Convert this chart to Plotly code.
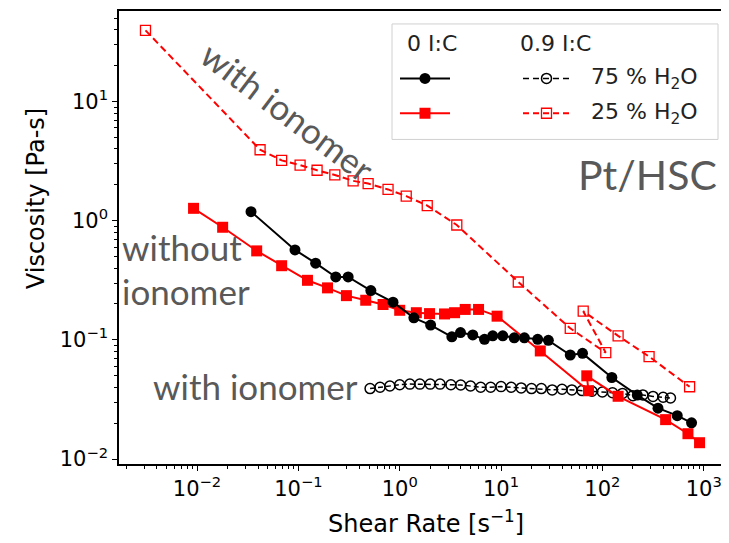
import plotly.graph_objects as go

# ---- data ----
# 0 I:C, 75 % H2O  (black filled circles, solid)
x_0ic_75 = [0.0341, 0.0926, 0.148, 0.234, 0.31, 0.519, 0.859, 1.38, 2.02, 3.27, 3.98, 5.26,
            6.87, 8.28, 10.4, 13.5, 17.0, 23.0, 29.3, 48.2, 63.7, 124, 221, 354, 548, 759]
y_0ic_75 = [1.19, 0.569, 0.44, 0.337, 0.337, 0.259, 0.207, 0.153, 0.133, 0.106, 0.115, 0.11,
            0.101, 0.108, 0.108, 0.104, 0.104, 0.101, 0.099, 0.0746, 0.077, 0.0483, 0.0344,
            0.0267, 0.0231, 0.0201]

# 0 I:C, 25 % H2O  (red filled squares, solid)
x_0ic_25 = [0.00924, 0.0179, 0.0388, 0.0684, 0.123, 0.194, 0.298, 0.462, 0.685, 1.0, 1.46,
            1.97, 2.77, 3.48, 4.43, 6.0, 9.14, 24.4, 73, 70.2, 143, 421, 699, 910]
y_0ic_25 = [1.27, 0.881, 0.558, 0.419, 0.316, 0.273, 0.235, 0.215, 0.198, 0.177, 0.169,
            0.166, 0.165, 0.169, 0.18, 0.18, 0.158, 0.0807, 0.0374, 0.0499, 0.0336, 0.0214,
            0.0163, 0.0137]

# 0.9 I:C, 75 % H2O  (black open circles, dashed)
x_09ic_75 = [0.51, 0.64, 0.80, 1.0, 1.26, 1.58, 2.0, 2.5, 3.2, 4.0, 5.0, 6.3, 7.9, 10.0,
             12.6, 15.8, 20, 25, 32, 40, 50, 63, 79, 100, 126, 158, 200, 251, 316, 398, 470]
y_09ic_75 = [0.039, 0.040, 0.041, 0.042, 0.0425, 0.0425, 0.0425, 0.0425, 0.042, 0.0418,
             0.041, 0.040, 0.040, 0.0405, 0.040, 0.0395, 0.039, 0.039, 0.038, 0.0385, 0.038,
             0.0375, 0.037, 0.0365, 0.036, 0.0355, 0.034, 0.0345, 0.0335, 0.033, 0.0325]

# 0.9 I:C, 25 % H2O  (red open squares, dashed)
x_09ic_25 = [0.0031, 0.0419, 0.0684, 0.104, 0.153, 0.229, 0.347, 0.488, 0.767, 1.16, 1.87,
             3.66, 14.8, 48.2, 108, 64.7, 143, 289, 726]
y_09ic_25 = [39.6, 3.94, 3.21, 2.93, 2.65, 2.42, 2.16, 2.05, 1.83, 1.61, 1.34, 0.92, 0.306,
             0.125, 0.078, 0.174, 0.108, 0.0724, 0.0404]

x_tickvals = [0.01, 0.1, 1, 10, 100, 1000]
x_ticktext = ["10<sup>−2</sup>", "10<sup>−1</sup>", "10<sup>0</sup>", "10<sup>1</sup>",
              "10<sup>2</sup>", "10<sup>3</sup>"]
y_tickvals = [0.01, 0.1, 1, 10]
y_ticktext = ["10<sup>−2</sup>", "10<sup>−1</sup>", "10<sup>0</sup>", "10<sup>1</sup>"]

legend_headers = ["0 I:C", "0.9 I:C"]
legend_rows = ["75 % H<sub>2</sub>O", "25 % H<sub>2</sub>O"]

# page body has an 8px default margin: the figure is made 8px smaller and
# positions below are given in screenshot pixels
OFF = 8
SW, SH = 729, 543                      # screenshot size
PL, PR, PT, PB = 119, 726, 9, 464      # plot area in screenshot pixels
W, H = SW - OFF, SH - OFF
PW, PH = PR - PL, PB - PT
RED = "#ff0000"
GRAY = "#595959"
TICKFONT = dict(family="DejaVu Sans", size=21, color="black")


def px(x, y):
    """screenshot pixel position -> paper coordinates"""
    return (x - PL) / PW, (PB - y) / PH


fig = go.Figure()

fig.add_trace(go.Scatter(x=x_09ic_25, y=y_09ic_25, mode="lines+markers",
                         line=dict(color=RED, width=2, dash="7px,4px"),
                         marker=dict(symbol="square-open", size=10, color=RED,
                                     line=dict(width=1.3, color=RED)),
                         showlegend=False))
fig.add_trace(go.Scatter(x=x_09ic_75, y=y_09ic_75, mode="lines+markers",
                         line=dict(color="black", width=1.5, dash="5px,3px"),
                         marker=dict(symbol="circle-open", size=10, color="black",
                                     line=dict(width=1.5, color="black")),
                         showlegend=False))
fig.add_trace(go.Scatter(x=x_0ic_25, y=y_0ic_25, mode="lines+markers",
                         line=dict(color=RED, width=2),
                         marker=dict(symbol="square", size=11, color=RED),
                         showlegend=False))
fig.add_trace(go.Scatter(x=x_0ic_75, y=y_0ic_75, mode="lines+markers",
                         line=dict(color="black", width=2),
                         marker=dict(symbol="circle", size=11, color="black"),
                         showlegend=False))

# ---- legend drawn on an overlay pixel-coordinate axis ----
PXT = dict(xaxis="x2", yaxis="y2", showlegend=False, hoverinfo="skip")
row_y = [76.7, 111.7]
# column 1 (0 I:C): solid, filled
fig.add_trace(go.Scatter(x=[400, 450], y=[row_y[0]] * 2, mode="lines",
                         line=dict(color="black", width=2), **PXT))
fig.add_trace(go.Scatter(x=[425], y=[row_y[0]], mode="markers",
                         marker=dict(symbol="circle", size=11, color="black"), **PXT))
fig.add_trace(go.Scatter(x=[400, 450], y=[row_y[1]] * 2, mode="lines",
                         line=dict(color=RED, width=2), **PXT))
fig.add_trace(go.Scatter(x=[425], y=[row_y[1]], mode="markers",
                         marker=dict(symbol="square", size=11, color=RED), **PXT))
# column 2 (0.9 I:C): dashed, open
fig.add_trace(go.Scatter(x=[523, 570], y=[row_y[0]] * 2, mode="lines",
                         line=dict(color="black", width=1.5, dash="6px,4px"), **PXT))
fig.add_trace(go.Scatter(x=[546.5], y=[row_y[0]], mode="markers",
                         marker=dict(symbol="circle-open", size=10, color="black",
                                     line=dict(width=1.5)), **PXT))
fig.add_trace(go.Scatter(x=[523, 570], y=[row_y[1]] * 2, mode="lines",
                         line=dict(color=RED, width=2, dash="6px,4px"), **PXT))
fig.add_trace(go.Scatter(x=[546.5], y=[row_y[1]], mode="markers",
                         marker=dict(symbol="square-open", size=10, color=RED,
                                     line=dict(width=1.3)), **PXT))


def note(x, y, text, font, **kw):
    xp, yp = px(x, y)
    d = dict(x=xp, y=yp, xref="paper", yref="paper", text=text, showarrow=False,
             font=font, yanchor="middle")
    d.update(kw)
    return d


annotations = []
LEGFONT = dict(family="DejaVu Sans", size=22, color="#222222")
annotations.append(note(405, 42, legend_headers[0], LEGFONT, xanchor="left"))
annotations.append(note(518, 42, legend_headers[1], LEGFONT, xanchor="left"))
for ry, txt in zip(row_y, legend_rows):
    annotations.append(note(589, ry, txt, LEGFONT, xanchor="left"))

ANNFONT = dict(family="Lato", size=35, color=GRAY)
annotations += [
    note(288, 109, "with ionomer", ANNFONT, textangle=37, xanchor="center"),
    note(120, 246, "without", ANNFONT, xanchor="left"),
    note(120, 290, "ionomer", ANNFONT, xanchor="left"),
    note(151, 386, "with ionomer", ANNFONT, xanchor="left"),
    note(647, 173, "Pt/HSC", dict(family="Lato", size=41, color=GRAY), xanchor="center"),
    # axis titles
    note(426, 522, "Shear Rate [s<sup>−1</sup>]",
         dict(family="DejaVu Sans", size=24, color="black"), xanchor="center"),
    note(36, 198, "Viscosity [Pa-s]",
         dict(family="DejaVu Sans", size=24, color="black"), xanchor="center",
         textangle=-90),
]

shapes = [dict(type="rect", xref="x2", yref="y2", x0=392, x1=718, y0=22, y1=138,
               line=dict(color="#d0d0d0", width=1), fillcolor="rgba(255,255,255,0.8)",
               layer="below")]

fig.update_layout(
    width=W, height=H,
    margin=dict(l=PL - OFF, r=W - (PR - OFF), t=PT - OFF, b=H - (PB - OFF), pad=0),
    paper_bgcolor="white", plot_bgcolor="white",
    xaxis=dict(type="log", range=[-2.77, 3.22], tickvals=x_tickvals, ticktext=x_ticktext,
               showgrid=False, zeroline=False, showline=True, linecolor="black",
               linewidth=1.5, mirror=True, ticks="outside", ticklen=5, tickwidth=1.2,
               tickcolor="black", tickfont=TICKFONT, ticklabeloverflow="allow",
               minor=dict(ticks="outside", ticklen=3, tickwidth=1, tickcolor="black",
                          dtick="D1", showgrid=False)),
    yaxis=dict(type="log", range=[-2.042, 1.76], tickvals=y_tickvals, ticktext=y_ticktext,
               showgrid=False, zeroline=False, showline=True, linecolor="black",
               linewidth=1.5, mirror=False, ticks="outside", ticklen=5, tickwidth=1.2,
               tickcolor="black", tickfont=TICKFONT, ticklabeloverflow="allow",
               minor=dict(ticks="outside", ticklen=3, tickwidth=1, tickcolor="black",
                          dtick="D1", showgrid=False)),
    xaxis2=dict(range=[PL, PR], overlaying="x", visible=False, fixedrange=True),
    yaxis2=dict(range=[PB, PT], overlaying="y", visible=False, fixedrange=True),
    annotations=annotations,
    shapes=shapes,
)

fig.write_html("out.html")
